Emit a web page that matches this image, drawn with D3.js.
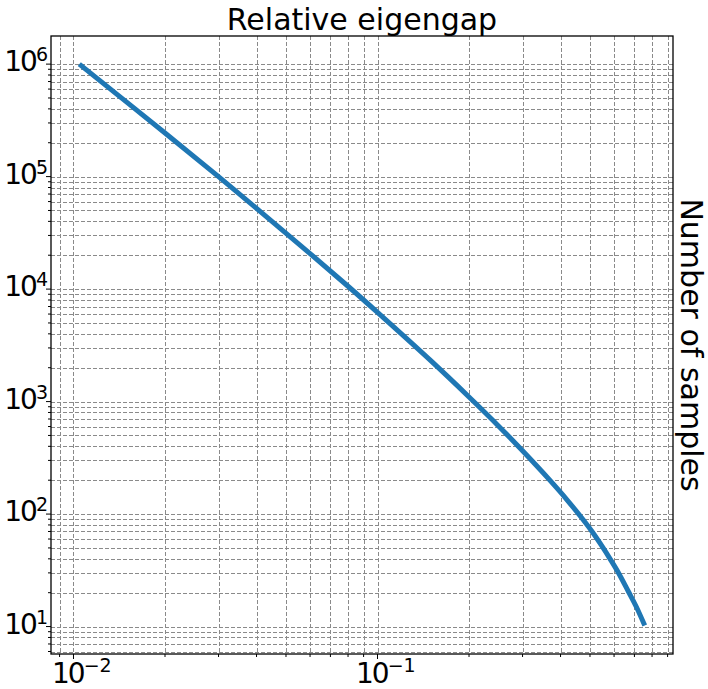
<!DOCTYPE html>
<html><head><meta charset="utf-8">
<script src="https://cdn.jsdelivr.net/npm/d3@7"></script>
<style>
html,body{margin:0;padding:0;background:#fff;}
svg{display:block;font-family:"DejaVu Sans",sans-serif;}
</style></head>
<body><svg id="c" width="708" height="689"></svg>
<script>
// Data (relative eigengap vs number of samples)
const gap = [0.01045, 0.02, 0.03, 0.04, 0.06, 0.08, 0.1, 0.15, 0.2, 0.25, 0.3, 0.37, 0.42, 0.463, 0.507, 0.553, 0.582, 0.62, 0.668, 0.71, 0.757];
const samples = [1e6, 2.44e5, 1.0e5, 5.22e4, 2.07e4, 1.06e4, 6.21e3, 2.30e3, 1.10e3, 608, 365, 198, 134, 97, 70.3, 49.8, 40, 30.1, 20.6, 15.0, 10.2];
const xMajor = [1e-2, 1e-1];
const xMajorLabels = ["-2", "-1"];
const yMajor = [1e1, 1e2, 1e3, 1e4, 1e5, 1e6];
const yMajorLabels = ["1", "2", "3", "4", "5", "6"];
const titleText = "Relative eigengap";
const yLabelText = "Number of samples";

const W = 708, H = 689;
const m = {left: 51, right: 673, top: 36, bottom: 654};
const svg = d3.select("#c");

const x = d3.scaleLog().domain([Math.pow(10, -2.074), Math.pow(10, -0.028)]).range([m.left, m.right]);
const y = d3.scaleLog().domain([Math.pow(10, 0.756), Math.pow(10, 6.25)]).range([m.bottom, m.top]);

const xTicks = x.ticks();
const yTicks = y.ticks();
const isMajor = v => Math.abs(Math.log10(v) - Math.round(Math.log10(v))) < 1e-9;

const grid = svg.append("g").attr("stroke", "#8a8a8a").attr("stroke-width", 1).attr("stroke-dasharray", "4,2").attr("fill", "none");
grid.selectAll("line.gx").data(xTicks).join("line")
  .attr("x1", d => Math.round(x(d)) + 0.5).attr("x2", d => Math.round(x(d)) + 0.5)
  .attr("y1", m.top).attr("y2", m.bottom);
grid.selectAll("line.gy").data(yTicks).join("line")
  .attr("y1", d => Math.round(y(d)) + 0.5).attr("y2", d => Math.round(y(d)) + 0.5)
  .attr("x1", m.left).attr("x2", m.right);

// curve
const line = d3.line().x((d, i) => x(gap[i])).y((d, i) => y(samples[i])).curve(d3.curveCatmullRom.alpha(0.5));
svg.append("path").datum(samples).attr("d", line)
  .attr("fill", "none").attr("stroke", "#1f77b4").attr("stroke-width", 5)
  .attr("stroke-linecap", "butt").attr("stroke-linejoin", "round");

// frame
svg.append("rect").attr("x", m.left).attr("y", m.top).attr("width", m.right - m.left).attr("height", m.bottom - m.top)
  .attr("fill", "none").attr("stroke", "#000").attr("stroke-width", 1.3);

// ticks
const tk = svg.append("g").attr("stroke", "#000").attr("stroke-width", 1);
tk.selectAll("line.tx").data(xTicks).join("line")
  .attr("x1", d => x(d)).attr("x2", d => x(d))
  .attr("y1", m.bottom).attr("y2", d => m.bottom + (isMajor(d) ? 5 : 3));
tk.selectAll("line.ty").data(yTicks).join("line")
  .attr("y1", d => y(d)).attr("y2", d => y(d))
  .attr("x1", m.left).attr("x2", d => m.left - (isMajor(d) ? 5 : 3));

// y tick labels
const yl = svg.append("g").attr("fill", "#000");
yMajor.forEach((v, i) => {
  const t = yl.append("text").attr("x", 48).attr("y", y(v) + 7).attr("text-anchor", "end").attr("font-size", 28);
  t.append("tspan").attr("letter-spacing", -2).text("10");
  t.append("tspan").attr("font-size", 19).attr("dy", -10).text(yMajorLabels[i]);
});
// x tick labels
xMajor.forEach((v, i) => {
  const t = yl.append("text").attr("x", x(v) - 21.5).attr("y", 683).attr("text-anchor", "start").attr("font-size", 28);
  t.append("tspan").attr("letter-spacing", -2).text("10");
  t.append("tspan").attr("font-size", 19).attr("dy", -11).text("\u2212" + xMajorLabels[i].replace("-", ""));
});

// title
svg.append("text").attr("x", (m.left + m.right) / 2).attr("y", 30).attr("text-anchor", "middle")
  .attr("font-size", 30).attr("fill", "#000").text(titleText);
// right label
svg.append("text").attr("transform", `translate(681,${(m.top + m.bottom) / 2}) rotate(90)`)
  .attr("text-anchor", "middle").attr("font-size", 30).attr("fill", "#000").text(yLabelText);
</script>
</body></html>
